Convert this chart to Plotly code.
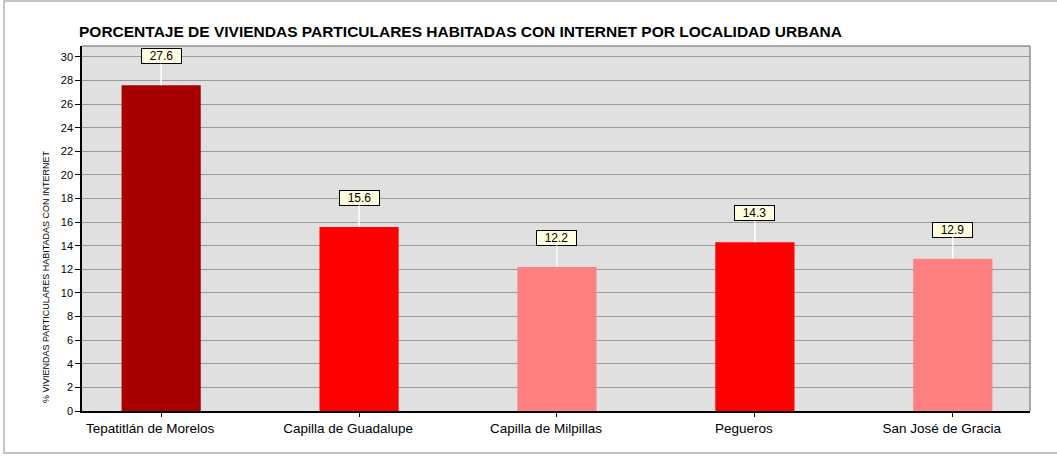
import plotly.graph_objects as go

categories = ["Tepatitlán de Morelos", "Capilla de Guadalupe", "Capilla de Milpillas", "Pegueros", "San José de Gracia"]
values = [27.6, 15.6, 12.2, 14.3, 12.9]
bar_colors = ["#A80000", "#FF0000", "#FF8080", "#FF0000", "#FF8080"]
title_text = "PORCENTAJE DE VIVIENDAS PARTICULARES HABITADAS CON INTERNET POR LOCALIDAD URBANA"
y_title = "% VIVIENDAS PARTICULARES HABITADAS CON INTERNET"

W, H = 1057, 458
L, R, T, B = 82, 27, 46, 47
pw, ph = W - L - R, H - T - B

def px_x(px):
    return (px - L) / pw

def px_y(py):
    return (H - B - py) / ph

FONT = "Liberation Sans, Arial, sans-serif"

fig = go.Figure()
fig.add_trace(go.Bar(
    x=list(range(len(categories))), y=values,
    marker=dict(color=bar_colors, line=dict(width=0)),
    width=0.4, hoverinfo="x+y",
))

for i, v in enumerate(values):
    fig.add_annotation(
        x=i, y=v, xref="x", yref="y",
        text=f"{v:.1f}", showarrow=True, arrowhead=0, arrowwidth=1.5,
        arrowcolor="#FFFFFF", ax=0, ay=-29,
        bgcolor="#FFFFE0", bordercolor="#000000", borderwidth=1,
        borderpad=0, width=39, height=14,
        font=dict(family=FONT, size=12, color="#000000"),
    )

fig.add_annotation(
    x=px_x(77), y=px_y(31), xref="paper", yref="paper",
    xanchor="left", yanchor="middle", showarrow=False,
    text=f"<b>{title_text}</b>",
    font=dict(family=FONT, size=15.5, color="#000000"),
)
fig.add_annotation(
    x=px_x(46), y=px_y(277), xref="paper", yref="paper",
    xanchor="center", yanchor="middle", showarrow=False,
    text=y_title, textangle=-90,
    font=dict(family=FONT, size=9, color="#000000"),
)

fig.add_shape(type="rect", xref="paper", yref="paper",
              x0=px_x(4), x1=px_x(1062), y0=px_y(453), y1=px_y(1),
              line=dict(color="#B0B0B0", width=1.5), fillcolor="rgba(0,0,0,0)", layer="below")
fig.add_shape(type="line", xref="paper", yref="paper", x0=0, x1=1, y0=1, y1=1,
              line=dict(color="#909090", width=1.5))
fig.add_shape(type="line", xref="paper", yref="paper", x0=1, x1=1, y0=0, y1=1,
              line=dict(color="#909090", width=1.5))

fig.update_layout(
    width=W, height=H,
    margin=dict(l=L, r=R, t=T, b=B, pad=0),
    paper_bgcolor="#FFFFFF", plot_bgcolor="#E0E0E0",
    showlegend=False,
    font=dict(family=FONT, size=11, color="#000000"),
    xaxis=dict(
        range=[-0.4, 4.39], tickmode="array",
        tickvals=list(range(len(categories))), ticktext=categories,
        ticks="outside", ticklen=4, tickcolor="#000000", tickwidth=1,
        ticklabelshift=-11, ticklabelstandoff=0,
        showgrid=False, zeroline=False,
        showline=True, linecolor="#000000", linewidth=1.5,
        tickfont=dict(family=FONT, size=13.5, color="#000000"),
        fixedrange=True,
    ),
    yaxis=dict(
        range=[0, 30.93], dtick=2, tick0=0,
        ticks="outside", ticklen=5, tickcolor="#000000", tickwidth=1,
        showgrid=True, gridcolor="#9A9A9A", gridwidth=1,
        zeroline=False, showline=True, linecolor="#000000", linewidth=1.5,
        tickfont=dict(family=FONT, size=11, color="#000000"),
        fixedrange=True,
    ),
)

fig.write_html("out.html", config={"displayModeBar": False},
               post_script="document.body.style.margin='0';document.body.style.overflow='hidden';")
